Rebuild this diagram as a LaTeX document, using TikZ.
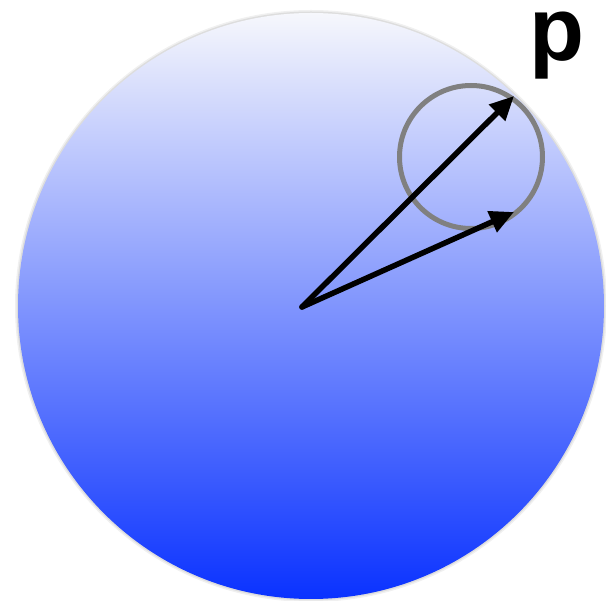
\documentclass[tikz,border=0pt]{standalone}
\usepackage{fontspec}
\setmainfont{Liberation Sans}
\usetikzlibrary{arrows.meta}
\definecolor{topc}{RGB}{246,247,252}
\definecolor{botc}{RGB}{10,50,255}
\definecolor{ringc}{RGB}{128,128,128}
\tikzset{
  vec/.style={line width=5.5pt, -{Triangle[length=24pt,width=22pt]}, black},
  ring/.style={draw=ringc, line width=5pt, circle, minimum size=143pt, inner sep=0pt},
}
\begin{document}
\begin{tikzpicture}[x=1pt,y=-1pt]
\useasboundingbox (0,0) rectangle (606,601);
\coordinate (c) at (311,306);
\fill[black,opacity=0.06] (c) circle (296);
\fill[black,opacity=0.08] (c) circle (294.5);
\shade[top color=topc, bottom color=botc] (c) circle (293);
\node[ring] (r) at (471,157) {};
\coordinate (o) at (302,307);
\coordinate (t1) at (514,96);
\coordinate (t2) at (514,212);
\draw[vec, line cap=round] (o) -- (t1);
\draw[vec, line cap=round] (o) -- (t2);
\node[font=\fontsize{90}{90}\selectfont\bfseries, inner sep=0pt, text height=48pt, text depth=22pt, anchor=base] (p) at (557,61) {p};
\end{tikzpicture}
\end{document}
